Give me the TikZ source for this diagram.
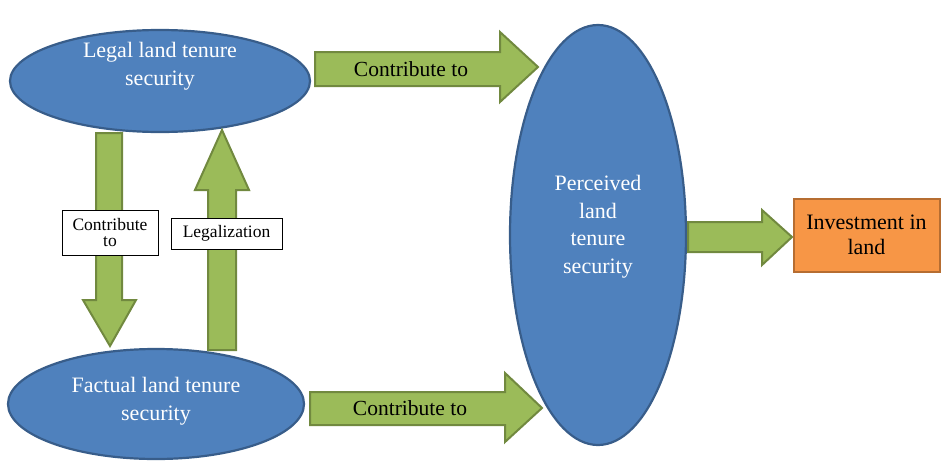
\documentclass[tikz,border=0pt]{standalone}
\usepackage{fontspec}
\setmainfont{Liberation Serif}
\definecolor{bluefill}{HTML}{4F81BD}
\definecolor{blueline}{HTML}{385D8A}
\definecolor{greenfill}{HTML}{9BBB59}
\definecolor{greenline}{HTML}{71893F}
\definecolor{orangefill}{HTML}{F79646}
\definecolor{orangeline}{HTML}{B66D31}
\usetikzlibrary{shapes.geometric}
\tikzset{
  oval/.style={ellipse, fill=bluefill, draw=blueline, line width=2.2pt, inner sep=0pt},
  ovaltext/.style={text=white, align=center, inner sep=0pt, font=\fontsize{22}{27.5}\selectfont},
  blockarrow/.style={fill=greenfill, draw=greenline, line width=2pt, line join=miter},
  arrowtext/.style={font=\fontsize{21.5}{24}\selectfont, text=black},
  labelbox/.style={draw=black, fill=white, line width=0.8pt, align=center, inner sep=0pt,
    font=\fontsize{17.5}{16}\selectfont},
}
\begin{document}
\begin{tikzpicture}[x=1pt,y=-1pt]
\useasboundingbox (0,0) rectangle (943,461);
% ellipses
\node[oval, minimum width=300pt, minimum height=102pt] (legal) at (160,81) {};
\node[ovaltext] (legalt) at (160,66) {Legal land tenure\\security};
\node[oval, minimum width=296pt, minimum height=110pt] (factual) at (156,404) {};
\node[ovaltext] (factualt) at (156,401) {Factual land tenure\\security};
\node[oval, minimum width=176pt, minimum height=420pt] (perc) at (598,235) {};
\node[ovaltext] (perct) at (598,226.5) {Perceived\\land\\tenure\\security};
\node[draw=orangeline, fill=orangefill, line width=2pt, minimum width=146pt, minimum height=73pt, align=center,
  font=\fontsize{22}{25}\selectfont, inner sep=0pt] (inv) at (866.5,235) {Investment in\\land};
% block arrows
\draw[blockarrow] (315,52) -- (500,52) -- (500,32) -- (538,67) -- (500,102) -- (500,86) -- (315,86) -- cycle;
\node[arrowtext] (t1) at (411,69) {Contribute to};
\draw[blockarrow] (310,392) -- (505,392) -- (505,373) -- (542,408) -- (505,442) -- (505,425) -- (310,425) -- cycle;
\node[arrowtext] (t2) at (410,408) {Contribute to};
\draw[blockarrow] (688,222) -- (762,222) -- (762,210) -- (792,237) -- (762,265) -- (762,252) -- (688,252) -- cycle;
\draw[blockarrow] (96,133) -- (122,133) -- (122,300) -- (136,300) -- (110,346) -- (83,300) -- (96,300) -- cycle;
\draw[blockarrow] (208,350) -- (236,350) -- (236,190) -- (249,190) -- (222,130) -- (195,190) -- (208,190) -- cycle;
% label boxes
\node[labelbox, minimum width=96pt, minimum height=45pt] (lb1) at (110,232.5) {Contribute\\to};
\node[labelbox, minimum width=111pt, minimum height=31pt] (lb2) at (226.5,233.5) {Legalization};
\end{tikzpicture}
\end{document}
